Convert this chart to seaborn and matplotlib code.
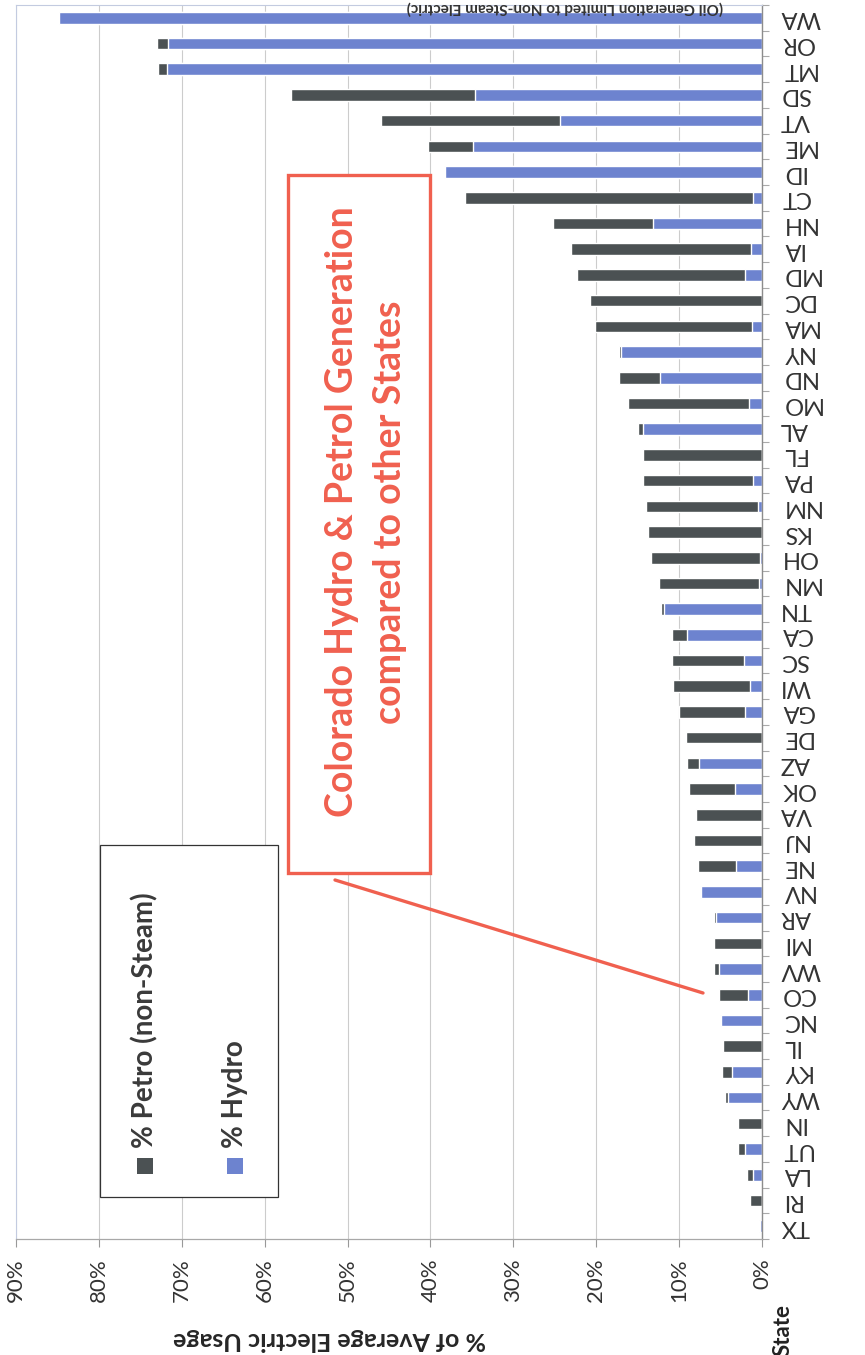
import numpy as np
import pandas as pd
import matplotlib
matplotlib.use("Agg")
import matplotlib.pyplot as plt
import seaborn as sns
from matplotlib.patches import Rectangle
from matplotlib.lines import Line2D

# States ordered from largest to smallest combined share
states = ["WA", "OR", "MT", "SD", "VT", "ME", "ID", "CT", "NH", "IA", "MD", "DC",
          "MA", "NY", "ND", "MO", "AL", "FL", "PA", "NM", "KS", "OH", "MN", "TN",
          "CA", "SC", "WI", "GA", "DE", "AZ", "OK", "VA", "NJ", "NE", "NV", "AR",
          "MI", "WV", "CO", "NC", "IL", "KY", "WY", "IN", "UT", "LA", "RI", "TX"]

# % of average electric usage from hydro generation
hydro = [84.8, 71.7, 71.8, 34.6, 24.4, 34.9, 38.2, 1.1, 13.1, 1.3, 2.1, 0.0,
         1.2, 17.05, 12.3, 1.6, 14.35, 0.0, 1.1, 0.5, 0.0, 0.2, 0.4, 11.8,
         9.1, 2.2, 1.45, 2.0, 0.0, 7.6, 3.2, 0.0, 0.0, 3.1, 7.4, 5.6,
         0.0, 5.2, 1.7, 4.9, 0.0, 3.6, 4.1, 0.0, 2.0, 1.1, 0.0, 0.25]

# % of average electric usage from petroleum (non-steam) generation
petro = [0.0, 1.3, 1.1, 22.2, 21.6, 5.4, 0.2, 34.7, 12.1, 21.8, 20.2, 20.8,
         19.0, 0.25, 4.95, 14.6, 0.55, 14.3, 13.2, 13.5, 13.7, 13.2, 12.0, 0.4,
         1.8, 8.65, 9.25, 8.0, 9.2, 1.4, 5.6, 8.0, 8.2, 4.6, 0.1, 0.2,
         5.8, 0.6, 3.5, 0.2, 4.75, 1.2, 0.4, 2.9, 0.9, 0.7, 1.5, 0.15]

value_ticks = list(range(0, 91, 10))
series_names = ["% Petro (non-Steam)", "% Hydro"]

DARK = "#4b5153"
BLUE = "#6d83cf"
RED = "#f0604f"

sns.set_style("white")
plt.rcParams["font.family"] = ["Lato", "DejaVu Sans"]
plt.rcParams["text.color"] = "#222222"

W, H = 865, 1355


def fx(x):
    return x / W


def fy(y):
    return 1 - y / H


df = pd.DataFrame({"State": states, "Hydro": hydro, "Petro": petro})
df["Total"] = df["Hydro"] + df["Petro"]

fig = plt.figure(figsize=(W / 100, H / 100), dpi=100)
ax = fig.add_axes([fx(16), fy(1239), (762 - 16) / W, (1239 - 5) / H])

# stacked bars: hydro from zero, petro stacked beyond it
sns.barplot(data=df, y="State", x="Total", order=states, color=DARK,
            saturation=1, width=0.45, errorbar=None, orient="h", ax=ax)
sns.barplot(data=df, y="State", x="Hydro", order=states, color=BLUE,
            saturation=1, width=0.45, errorbar=None, orient="h", ax=ax)

ax.set_xlim(90, 0)
ax.set_ylim(len(states) - 0.5, -0.5)
ax.set_axisbelow(True)
ax.grid(axis="x", color="#cccccc", lw=0.8)
ax.grid(axis="y", visible=False)

# value axis along the bottom
ax.set_xticks(value_ticks)
ax.set_xticklabels([f"{v}%" for v in value_ticks], rotation=90, fontsize=16,
                   color="#333333")
ax.tick_params(axis="x", bottom=True, length=6, width=0.8, color="#999999",
               pad=8, direction="out")
ax.set_xlabel("% of Average Electric Usage", rotation=180, fontsize=18,
              fontweight="bold")
ax.xaxis.set_label_coords((330 - 16) / 746, (1239 - 1328) / 1234)

# category axis on the right
ax.yaxis.tick_right()
ax.set_ylabel("")
ax.tick_params(axis="y", which="major", length=0, pad=13, labelsize=17)
ax.set_yticks(np.arange(len(states) + 1) - 0.5, minor=True)
ax.tick_params(axis="y", which="minor", right=True, left=False, length=5,
               width=0.8, color="#aaaaaa")
for lab in ax.get_yticklabels():
    lab.set_rotation(180)
    lab.set_ha("left")
    lab.set_va("center")
    lab.set_color("#333333")

for side in ["top", "left"]:
    ax.spines[side].set_color("#c3cbe0")
    ax.spines[side].set_linewidth(0.8)
ax.spines["right"].set_color("#8c8c8c")
ax.spines["right"].set_linewidth(1.0)
ax.spines["bottom"].set_color("#a8a8a8")
ax.spines["bottom"].set_linewidth(0.9)

# subtitle along the top edge
fig.text(fx(565), fy(7.5), "(Oil Generation Limited to Non-Steam Electric)",
         rotation=180, fontsize=11, fontweight="bold", ha="center",
         va="center", color="#333333", zorder=7)

fig.text(fx(783), fy(1330), "State", rotation=90, fontsize=16,
         fontweight="bold", ha="center", va="center", color="#222222")

# legend drawn sideways
fig.patches.append(Rectangle((fx(100), fy(1197)), (278 - 100) / W, (1197 - 845) / H,
                             transform=fig.transFigure, fill=True, fc="white",
                             ec="#333333", lw=0.9, zorder=5))
for name, col, x in zip(series_names, [DARK, BLUE], [145, 235]):
    fig.patches.append(Rectangle((fx(x - 8), fy(1174)), 16 / W, 16 / H,
                                 transform=fig.transFigure, fc=col, ec="none",
                                 zorder=6))
    fig.text(fx(x), fy(1148), name, rotation=90, rotation_mode="anchor",
             ha="left", va="center", fontsize=20, fontweight="bold",
             color="#3a3a3a", zorder=6)

# callout box with leader line to Colorado
fig.patches.append(Rectangle((fx(288), fy(873)), (430 - 288) / W, (873 - 175) / H,
                             transform=fig.transFigure, fc="white", ec=RED,
                             lw=2.4, zorder=5))
fig.text(fx(366), fy(512), "Colorado Hydro & Petrol Generation\ncompared to other States",
         rotation=90, ha="center", va="center", multialignment="center",
         fontsize=27, fontweight="bold", color=RED, linespacing=1.5, zorder=6)
fig.lines.append(Line2D([fx(335), fx(703)], [fy(880), fy(993)],
                        transform=fig.transFigure, color=RED, lw=2.4, zorder=6))

fig.savefig("out.png", dpi=100)
